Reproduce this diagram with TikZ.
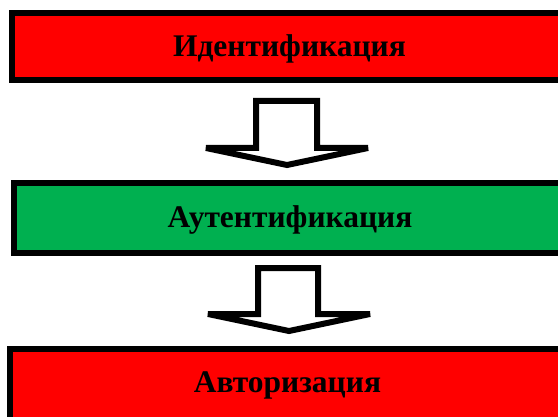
\documentclass[tikz,border=0pt]{standalone}
\usepackage{fontspec}
\setmainfont{Liberation Serif}
\definecolor{boxred}{RGB}{255,0,0}
\definecolor{boxgreen}{RGB}{0,176,80}
\begin{document}
\begin{tikzpicture}[x=1pt,y=1pt,
  stagebox/.style={draw=black, line width=6pt, rectangle, inner sep=0pt, outer sep=0pt},
  stagelabel/.style={font=\fontsize{31.5}{34}\selectfont\bfseries, text=black, inner sep=0pt, text height=20.8pt, text depth=0pt},
  blockarrow/.style={draw=black, fill=white, line width=6pt, line join=miter, miter limit=4}]
\useasboundingbox (0,0) rectangle (558,416);
\clip (0,0) rectangle (558,416);
\fill[white] (0,0) rectangle (558,416);
% boxes
\node[stagebox, fill=boxred, minimum width=555pt, minimum height=67pt] (b1) at (289.5,369.5) {};
\node[stagebox, fill=boxgreen, minimum width=552pt, minimum height=70pt] (b2) at (290,198) {};
\node[stagebox, fill=boxred, minimum width=555pt, minimum height=80pt] (b3) at (287.5,27) {};
% labels
\node[stagelabel] (l1) at (289.5,369.5) {Идентификация};
\node[stagelabel] (l2) at (290,199) {Аутентификация};
\node[stagelabel] (l3) at (287.5,34) {Авторизация};
% block arrows
\draw[blockarrow] (256,315) -- (317,315) -- (317,268) -- (368,268) -- (287,251) -- (206,268) -- (256,268) -- cycle;
\draw[blockarrow] (258,148) -- (318,148) -- (318,102) -- (370,102) -- (289,85) -- (208,102) -- (258,102) -- cycle;
\end{tikzpicture}
\end{document}
